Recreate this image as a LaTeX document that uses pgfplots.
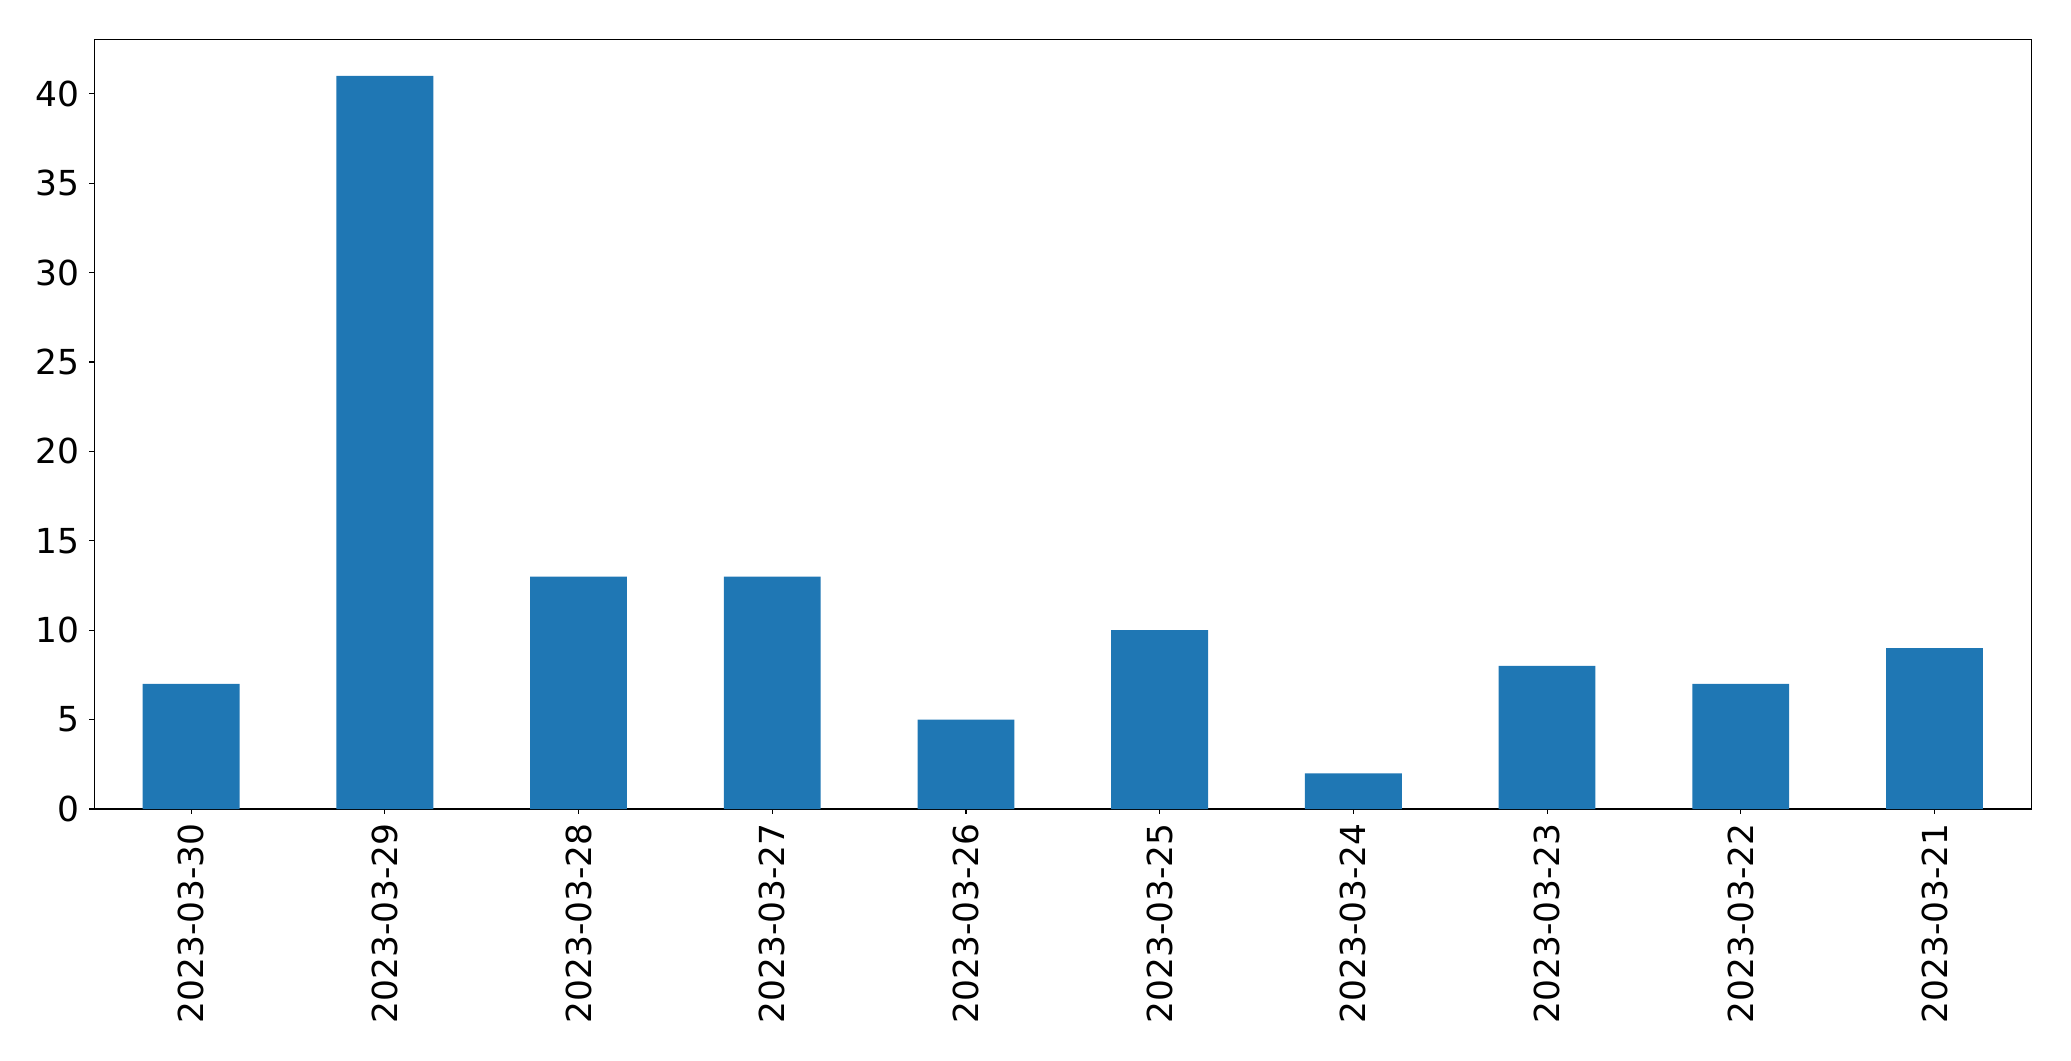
\documentclass[border=0pt]{standalone}
\usepackage{fontspec}
\setmainfont{DejaVu Sans}
\usepackage{pgfplots}
\pgfplotsset{compat=1.18}
\definecolor{mplblue}{HTML}{1F77B4}
\begin{document}
\fontsize{24.8bp}{29bp}\selectfont
\begin{tikzpicture}
\path[use as bounding box] (-67.9bp,-181.4bp) rectangle (1423.2bp,582.5bp);
\begin{axis}[
  at={(0,0)}, anchor=south west,
  scale only axis,
  width=1394.6bp, height=554.2bp,
  xmin=-0.5, xmax=9.5, ymin=0, ymax=43.05,
  xtick={0,1,2,3,4,5,6,7,8,9},
  xticklabels={2023-03-30,2023-03-29,2023-03-28,2023-03-27,2023-03-26,2023-03-25,2023-03-24,2023-03-23,2023-03-22,2023-03-21},
  ytick={0,5,10,15,20,25,30,35,40},
  xtick pos=left, ytick pos=left,
  tick align=outside,
  major tick length=3.5bp,
  tick style={line width=0.8bp, black},
  axis line style={line width=0.8bp},
  every tick label/.append style={font=\fontsize{24.8bp}{29bp}\selectfont, inner sep=0pt},
  /pgf/number format/assume math mode=true,
  x tick label style={rotate=90, anchor=east},
  xticklabel shift=6.5bp,
  yticklabel shift=7bp,
]
\addplot[ybar, bar width=0.5, fill=mplblue, draw=none, bar shift=0] coordinates {
(0,7) (1,41) (2,13) (3,13) (4,5) (5,10) (6,2) (7,8) (8,7) (9,9)
};
\end{axis}
\end{tikzpicture}
\end{document}
